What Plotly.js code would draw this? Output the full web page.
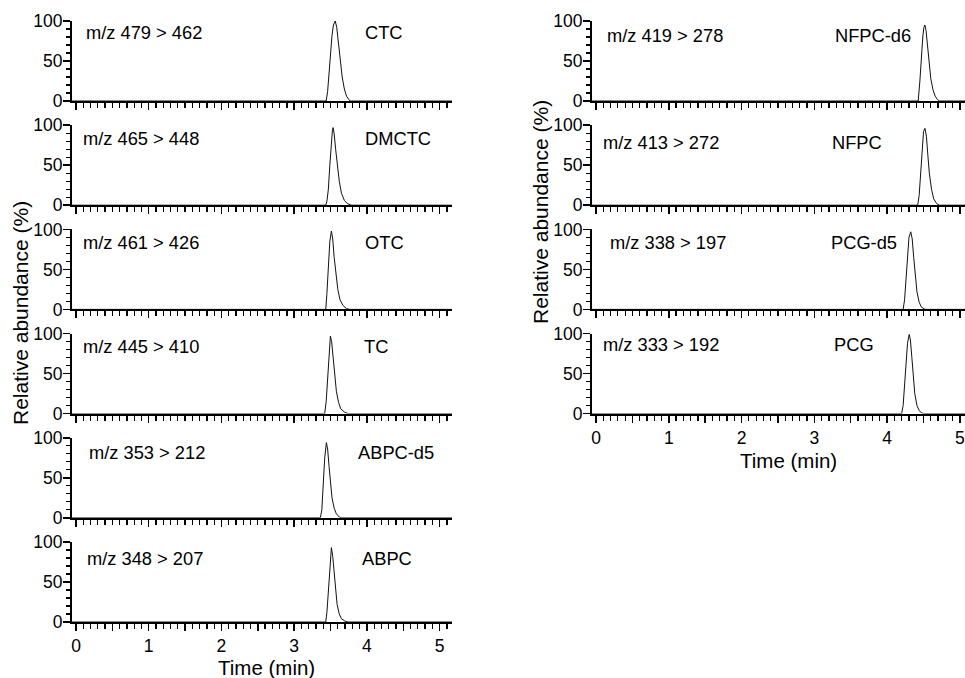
<!DOCTYPE html>
<html>
<head>
<meta charset="utf-8">
<script src="https://cdn.plot.ly/plotly-3.0.1.min.js"></script>
<style>html,body{margin:0;padding:0;background:#fff;}#chart{width:965px;height:678px;}</style>
</head>
<body>
<div id="chart"></div>
<script>
// ---------- data ----------
const compounds = ['CTC', 'DMCTC', 'OTC', 'TC', 'ABPC-d5', 'ABPC', 'NFPC-d6', 'NFPC', 'PCG-d5', 'PCG'];
const transitions = ['m/z 479 > 462', 'm/z 465 > 448', 'm/z 461 > 426', 'm/z 445 > 410', 'm/z 353 > 212',
                     'm/z 348 > 207', 'm/z 419 > 278', 'm/z 413 > 272', 'm/z 338 > 197', 'm/z 333 > 192'];
const xTickVals = [0, 0.5, 1, 1.5, 2, 2.5, 3, 3.5, 4, 4.5, 5];
const xTickText = ['0', '', '1', '', '2', '', '3', '', '4', '', '5'];
const yTickVals = [0, 50, 100];

const timeCTC = [-0.06, 3.44, 3.46, 3.48, 3.50, 3.52, 3.54, 3.565, 3.585, 3.61, 3.635, 3.66, 3.69, 3.72, 3.75, 3.77, 5.2];
const abundCTC = [0, 0, 12, 38, 65, 82, 95, 100, 92, 72, 50, 30, 15, 6, 2, 0, 0];
const timeDMCTC = [-0.06, 3.434, 3.45, 3.47, 3.49, 3.51, 3.525, 3.535, 3.55, 3.57, 3.59, 3.62, 3.65, 3.69, 3.73, 3.79, 5.2];
const abundDMCTC = [0, 0, 5, 20, 50, 80, 93, 97, 89, 70, 50, 30, 15, 6, 2, 0, 0];
const timeOTC = [-0.06, 3.434, 3.45, 3.47, 3.49, 3.512, 3.53, 3.55, 3.57, 3.60, 3.63, 3.67, 3.72, 3.76, 5.2];
const abundOTC = [0, 0, 20, 55, 85, 98, 88, 65, 45, 25, 12, 5, 1, 0, 0];
const timeTC = [-0.06, 3.42, 3.44, 3.46, 3.48, 3.498, 3.515, 3.535, 3.555, 3.58, 3.61, 3.64, 3.69, 3.74, 5.2];
const abundTC = [0, 0, 15, 45, 78, 97, 90, 70, 48, 28, 14, 6, 2, 0, 0];
const timeABPCd5 = [-0.06, 3.36, 3.38, 3.40, 3.42, 3.443, 3.46, 3.48, 3.50, 3.52, 3.55, 3.58, 3.62, 3.65, 5.2];
const abundABPCd5 = [0, 0, 10, 40, 75, 94, 86, 64, 42, 25, 12, 5, 1, 0, 0];
const timeABPC = [-0.06, 3.434, 3.45, 3.47, 3.49, 3.512, 3.53, 3.55, 3.57, 3.59, 3.62, 3.65, 3.70, 3.74, 5.2];
const abundABPC = [0, 0, 12, 40, 75, 93, 82, 58, 38, 22, 10, 4, 1, 0, 0];
const timeNFPCd6 = [-0.06, 4.427, 4.45, 4.47, 4.49, 4.505, 4.519, 4.535, 4.555, 4.575, 4.60, 4.63, 4.66, 4.69, 4.716, 5.2];
const abundNFPCd6 = [0, 0, 25, 55, 80, 92, 95, 88, 68, 45, 28, 14, 6, 2, 0, 0];
const timeNFPC = [-0.06, 4.42, 4.44, 4.46, 4.48, 4.50, 4.52, 4.54, 4.56, 4.58, 4.61, 4.64, 4.68, 4.72, 5.2];
const abundNFPC = [0, 0, 12, 40, 72, 92, 96, 86, 62, 40, 20, 8, 2, 0, 0];
const timePCGd5 = [-0.06, 4.22, 4.24, 4.26, 4.28, 4.30, 4.325, 4.345, 4.365, 4.385, 4.41, 4.44, 4.47, 4.52, 5.2];
const abundPCGd5 = [0, 0, 12, 38, 68, 90, 97, 88, 65, 42, 22, 9, 3, 0, 0];
const timePCG = [-0.06, 4.199, 4.22, 4.24, 4.26, 4.28, 4.304, 4.32, 4.34, 4.36, 4.38, 4.41, 4.44, 4.47, 4.505, 5.2];
const abundPCG = [0, 0, 10, 35, 65, 88, 99, 92, 70, 45, 25, 10, 4, 1, 0, 0];

const times = [timeCTC, timeDMCTC, timeOTC, timeTC, timeABPCd5, timeABPC, timeNFPCd6, timeNFPC, timePCGd5, timePCG];
const abunds = [abundCTC, abundDMCTC, abundOTC, abundTC, abundABPCd5, abundABPC, abundNFPCd6, abundNFPC, abundPCGd5, abundPCG];

// ---------- layout helpers (positions in pixels) ----------
const W = 965, H = 678;
const panelTop0 = 21, panelPitch = 104.2, panelH = 80;
const colX = [[72, 452], [592, 965]];
const colRange = [[-0.055, 5.17], [-0.055, 5.07]];
const mzX = [84, 81, 81, 81, 87, 85, 605, 601, 608, 601];
const nameX = [363, 363, 363, 362, 356, 360, 833, 830, 829, 832];
const labelDy = [12, 13, 13, 13, 15, 16, 15, 17, 13, 11];
const FONT = 'Liberation Sans, Arial, Helvetica, sans-serif';
const LABEL_SIZE = 18.3, TICK_SIZE = 17.5, TITLE_SIZE = 20.5;

const data = [];
const layout = {
  width: W, height: H,
  margin: {l: 0, r: 0, t: 0, b: 0},
  paper_bgcolor: '#fff', plot_bgcolor: '#fff',
  showlegend: false,
  font: {family: FONT, size: TICK_SIZE, color: '#000'},
  annotations: []
};

for (let i = 0; i < compounds.length; i++) {
  const col = i < 6 ? 0 : 1;
  const row = i < 6 ? i : i - 6;
  const isBottom = (col === 0 && row === 5) || (col === 1 && row === 3);
  const top = panelTop0 + row * panelPitch;
  const bottom = top + panelH;
  const n = i + 1;
  const xa = 'xaxis' + (n === 1 ? '' : n), ya = 'yaxis' + (n === 1 ? '' : n);
  const xr = 'x' + (n === 1 ? '' : n), yr = 'y' + (n === 1 ? '' : n);

  data.push({
    x: times[i], y: abunds[i], xaxis: xr, yaxis: yr,
    type: 'scatter', mode: 'lines',
    line: {color: '#111', width: 1}, hoverinfo: 'skip', cliponaxis: false
  });

  layout[xa] = {
    domain: [colX[col][0] / W, colX[col][1] / W],
    range: colRange[col], anchor: yr,
    showline: true, linecolor: '#000', linewidth: 2,
    showgrid: false, zeroline: false,
    ticks: 'outside', ticklen: 7, tickwidth: 1.5, tickcolor: '#000',
    tickmode: 'array', tickvals: xTickVals, ticktext: xTickText,
    showticklabels: isBottom,
    tickfont: {family: FONT, size: TICK_SIZE, color: '#000'},
    minor: {dtick: 0.1, tick0: 0, ticks: 'outside', ticklen: 5, tickwidth: 1.2, tickcolor: '#000', showgrid: false}
  };
  layout[ya] = {
    domain: [1 - bottom / H, 1 - top / H],
    range: [0, 100], anchor: xr,
    showline: true, linecolor: '#000', linewidth: 2,
    showgrid: false, zeroline: false,
    ticks: 'outside', ticklen: 7, tickwidth: 1.5, tickcolor: '#000',
    tickmode: 'array', tickvals: yTickVals,
    ticklabelstandoff: -3,
    tickfont: {family: FONT, size: TICK_SIZE, color: '#000'},
    minor: {dtick: 10, tick0: 0, ticks: 'outside', ticklen: 4.5, tickwidth: 1.2, tickcolor: '#000', showgrid: false}
  };

  layout.annotations.push({
    xref: 'paper', yref: 'paper', x: mzX[i] / W, y: 1 - (top + labelDy[i]) / H,
    xanchor: 'left', yanchor: 'middle', showarrow: false,
    text: transitions[i], font: {family: FONT, size: LABEL_SIZE, color: '#000'}
  });
  layout.annotations.push({
    xref: 'paper', yref: 'paper', x: nameX[i] / W, y: 1 - (top + labelDy[i]) / H,
    xanchor: 'left', yanchor: 'middle', showarrow: false,
    text: compounds[i], font: {family: FONT, size: LABEL_SIZE, color: '#000'}
  });
}

// axis titles
layout.annotations.push({xref: 'paper', yref: 'paper', x: 266 / W, y: 1 - 667.5 / H, xanchor: 'center', yanchor: 'middle',
  showarrow: false, text: 'Time (min)', font: {family: FONT, size: TITLE_SIZE, color: '#000'}});
layout.annotations.push({xref: 'paper', yref: 'paper', x: 788 / W, y: 1 - 460.5 / H, xanchor: 'center', yanchor: 'middle',
  showarrow: false, text: 'Time (min)', font: {family: FONT, size: TITLE_SIZE, color: '#000'}});
layout.annotations.push({xref: 'paper', yref: 'paper', x: 20 / W, y: 1 - 313 / H, xanchor: 'center', yanchor: 'middle',
  showarrow: false, textangle: -90, text: 'Relative abundance (%)', font: {family: FONT, size: 21, color: '#000'}});
layout.annotations.push({xref: 'paper', yref: 'paper', x: 541 / W, y: 1 - 212 / H, xanchor: 'center', yanchor: 'middle',
  showarrow: false, textangle: -90, text: 'Relative abundance (%)', font: {family: FONT, size: 21, color: '#000'}});

Plotly.newPlot('chart', data, layout, {staticPlot: true, displayModeBar: false});
</script>
</body>
</html>
